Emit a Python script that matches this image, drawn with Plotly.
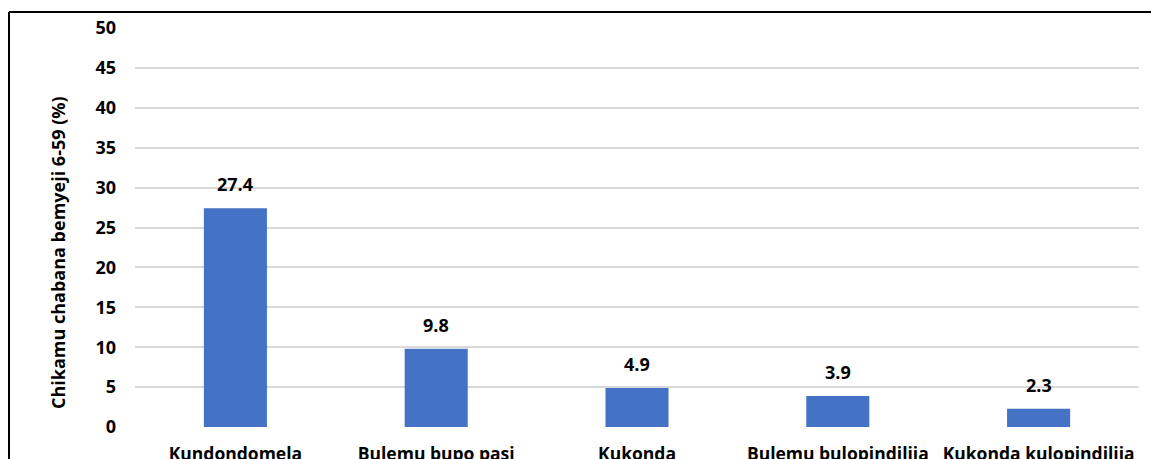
import plotly.graph_objects as go

# Share of children aged 6-59 months, by symptom
categories = ["Kundondomela", "Bulemu bupo pasi", "Kukonda", "Bulemu bulopindilija", "Kukonda kulopindilija"]
values = [27.4, 9.8, 4.9, 3.9, 2.3]
y_ticks = [0, 5, 10, 15, 20, 25, 30, 35, 40, 45, 50]
y_title = "Chikamu chabana bemyeji 6-59 (%)"

FONT = "Open Sans"
W, H = 1151, 459
ML, MR, MT, MB = 135, 12, 28, 32
PW, PH = W - ML - MR, H - MT - MB


def px_x(p):
    return (p - ML) / PW


def px_y(p):
    return 1 - (p - MT) / PH


fig = go.Figure(
    go.Bar(
        x=categories,
        y=values,
        marker=dict(color="#4472C4", line=dict(width=0)),
        hoverinfo="x+y",
    )
)

# value labels above each bar
for c, v in zip(categories, values):
    fig.add_annotation(
        x=c, y=v, text=f"<b>{v}</b>", showarrow=False,
        yanchor="middle", yshift=24,
        font=dict(family=FONT, size=18, color="black"),
    )

# rotated axis title
fig.add_annotation(
    xref="paper", yref="paper", x=px_x(58), y=px_y(253),
    text=f"<b>{y_title}</b>", textangle=-90, showarrow=False,
    xanchor="center", yanchor="middle",
    font=dict(family=FONT, size=18, color="black"),
)

# outer frame (top and left edges)
fig.add_shape(type="line", xref="paper", yref="paper",
              x0=px_x(9), x1=px_x(W + 20), y0=px_y(12), y1=px_y(12),
              line=dict(color="black", width=2))
fig.add_shape(type="line", xref="paper", yref="paper",
              x0=px_x(9), x1=px_x(9), y0=px_y(12), y1=px_y(H + 20),
              line=dict(color="black", width=2))

fig.update_layout(
    width=W, height=H,
    margin=dict(l=ML, r=MR, t=MT, b=MB, autoexpand=False),
    paper_bgcolor="white", plot_bgcolor="white",
    bargap=0.686,
    showlegend=False,
    font=dict(family=FONT, color="black"),
)

fig.update_xaxes(
    showgrid=False, showline=False, zeroline=False, ticks="",
    automargin=False,
    tickfont=dict(family=FONT, size=17.5, color="black", weight="bold"),
    ticklabelstandoff=14,
)

fig.update_yaxes(
    range=[0, 50], tickvals=y_ticks,
    showgrid=True, gridcolor="#D9D9D9", gridwidth=1.5,
    zeroline=False, showline=False, ticks="",
    automargin=False,
    tickfont=dict(family=FONT, size=18, color="black", weight="bold"),
    ticklabelstandoff=18,
)

fig.write_html("out.html")
